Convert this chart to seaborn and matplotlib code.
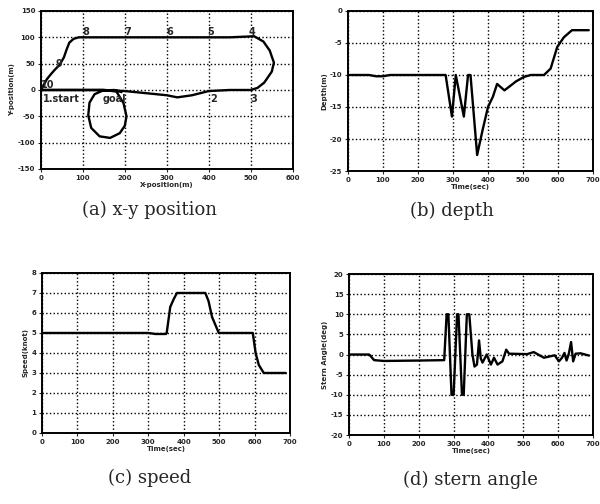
import numpy as np
import pandas as pd
import matplotlib
matplotlib.use("Agg")
import matplotlib.pyplot as plt
import seaborn as sns

# (a) x-y path of the vehicle
path_x = [0, 50, 100, 150, 200, 250, 300, 325, 360, 400, 450, 500, 516, 532, 550, 555, 545, 530, 508,
          450, 400, 300, 200, 100, 90, 78, 68, 62, 55, 45, 34, 24, 14, 3, 0,
          50, 100, 150, 180, 197, 204, 200, 188, 165, 140, 120, 113, 116, 128, 148, 175, 192]
path_y = [0, 0, 0, 0, -2, -6, -10, -14, -10, -2, 0, 0, 4, 14, 35, 52, 75, 92, 102,
          100, 100, 100, 100, 100, 100, 97, 90, 78, 62, 48, 39, 30, 20, 4, 0,
          0, 0, 0, -3, -25, -50, -68, -82, -91, -88, -72, -48, -24, -8, -1, 0, -4]
wp_labels = ["1.start", "2", "3", "4", "5", "6", "7", "8", "9", "10", "goal"]
wp_x = [4, 403, 498, 496, 397, 298, 200, 98, 36, 0, 148]
wp_y = [-17, -17, -17, 111, 111, 111, 111, 111, 50, 10, -17]

# (b) depth
t_depth = [0, 60, 80, 100, 120, 279, 297, 308, 331, 343, 350, 369, 385, 400, 414, 426,
           447, 466, 480, 503, 522, 560, 579, 598, 617, 640, 688]
depth = [-10, -10, -10.2, -10.2, -10, -10, -16.5, -10, -16.5, -10, -10, -22.5, -18.5, -15, -13.4, -11.4,
         -12.4, -11.6, -11, -10.3, -10, -10, -9, -5.6, -4.1, -3, -3]

# (c) speed
t_speed = [0, 300, 320, 350, 352, 362, 372, 381, 461, 470, 480, 499, 595, 603, 612, 626, 688]
speed = [5, 5, 4.95, 4.95, 5, 6.3, 6.7, 7, 7, 6.6, 5.8, 5, 5, 4, 3.4, 3, 3]

# (d) stern angle
t_stern = [0, 58, 72, 100, 200, 273, 280, 285, 294, 300, 310, 314, 324, 329, 338, 345,
           354, 360, 367, 373, 378, 383, 395, 407, 416, 426, 440, 451, 459, 511, 530, 559, 590,
           602, 611, 618, 624, 630, 637, 643, 650, 664, 688]
stern = [0, 0, -1.4, -1.6, -1.5, -1.4, 10, 10, -10, -10, 10, 10, -10, -10, 10, 10,
         0, -3, -2.5, 3.5, -1, -2, 0, -2.5, -0.8, -2.5, -1.7, 1.2, 0.2, 0.1, 0.6, -0.8, -0.2,
         -1.7, -0.8, 0.4, -1.5, 0, 3.1, -1.7, 0.2, 0.3, -0.25]

sns.set_style("ticks")
plt.rcParams['font.family'] = ['DejaVu Sans']
plt.rcParams['axes.unicode_minus'] = False

fig = plt.figure(figsize=(6, 5.04), dpi=100)


def style_axes(ax, xticks, yticks, xlabel, ylabel):
    ax.set_xlim(xticks[0], xticks[-1])
    ax.set_ylim(yticks[0], yticks[-1])
    ax.set_xticks(xticks)
    ax.set_yticks(yticks)
    ax.grid(True, linestyle=':', color='black', linewidth=1.0)
    for s in ax.spines.values():
        s.set_linewidth(1.4)
        s.set_color('black')
    ax.tick_params(labelsize=5, length=2, width=0.8, pad=2)
    for lab in ax.get_xticklabels() + ax.get_yticklabels():
        lab.set_fontweight('bold')
    ax.set_xlabel(xlabel, fontsize=5, fontweight='bold', labelpad=1)
    ax.set_ylabel(ylabel, fontsize=5, fontweight='bold', labelpad=2)


line_kw = dict(color='black', linewidth=1.7, estimator=None)

# (a)
ax1 = fig.add_axes([0.068, 0.6647, 0.42, 0.3135])
sns.lineplot(x=path_x, y=path_y, sort=False, ax=ax1, **line_kw)
style_axes(ax1, list(range(0, 601, 100)), list(range(-150, 151, 50)), "X-position(m)", "Y-position(m)")
for lab, x, y in zip(wp_labels, wp_x, wp_y):
    ax1.text(x, y, lab, fontsize=7, fontweight='bold', ha='left', va='center')

# (b)
ax2 = fig.add_axes([0.58, 0.6607, 0.4083, 0.3175])
sns.lineplot(x=t_depth, y=depth, ax=ax2, **line_kw)
style_axes(ax2, list(range(0, 701, 100)), list(range(-25, 1, 5)), "Time(sec)", "Depth(m)")

# (c)
ax3 = fig.add_axes([0.07, 0.1409, 0.4133, 0.3175])
sns.lineplot(x=t_speed, y=speed, ax=ax3, **line_kw)
style_axes(ax3, list(range(0, 701, 100)), list(range(0, 9, 1)), "Time(sec)", "Speed(knot)")

# (d)
ax4 = fig.add_axes([0.5817, 0.1369, 0.4067, 0.3194])
sns.lineplot(x=t_stern, y=stern, ax=ax4, **line_kw)
style_axes(ax4, list(range(0, 701, 100)), list(range(-20, 21, 5)), "Time(sec)", "Stern Angle(deg)")

# captions
cap_kw = dict(fontsize=13, family='DejaVu Serif', ha='center', va='center')
fig.text(150 / 600, 1 - 210 / 504, "(a) x-y position", **cap_kw)
fig.text(452 / 600, 1 - 211 / 504, "(b) depth", **cap_kw)
fig.text(150 / 600, 1 - 478 / 504, "(c) speed", **cap_kw)
fig.text(470 / 600, 1 - 480 / 504, "(d) stern angle", **cap_kw)

fig.savefig("out.png", dpi=100)
